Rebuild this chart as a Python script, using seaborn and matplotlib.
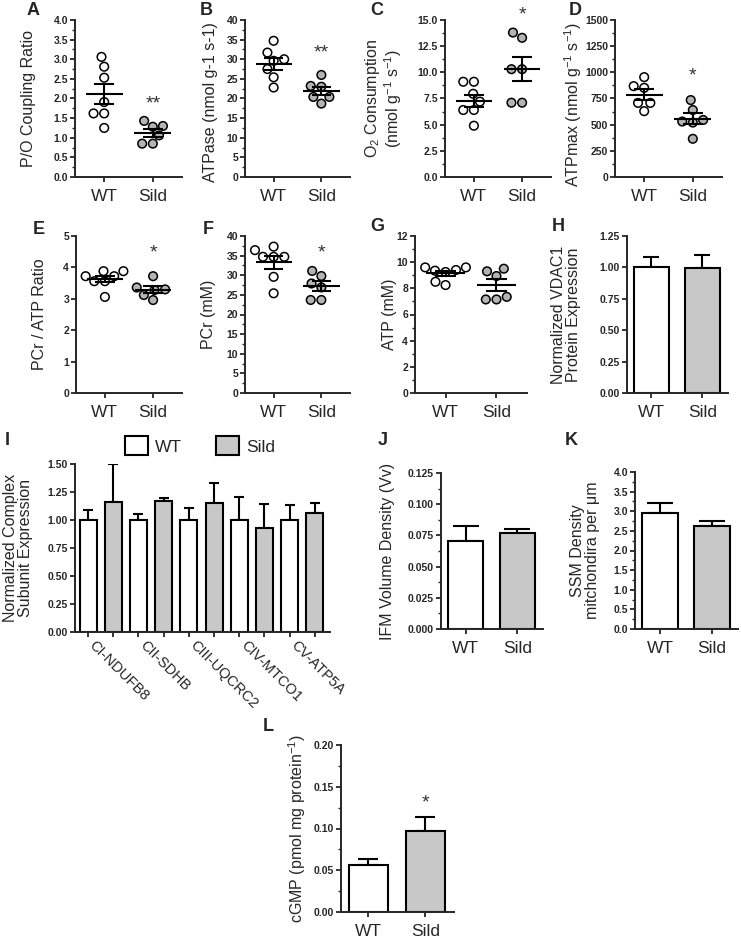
import numpy as np
import pandas as pd
import matplotlib
matplotlib.use("Agg")
import matplotlib.pyplot as plt
import matplotlib.transforms as mtransforms
import seaborn as sns
from matplotlib.ticker import MultipleLocator, AutoMinorLocator, FormatStrFormatter

sns.set_theme(style="ticks")
plt.rcParams["font.family"] = ["Liberation Sans", "DejaVu Sans"]
plt.rcParams["mathtext.default"] = "regular"
plt.rcParams["axes.linewidth"] = 1.4

W, H = 741, 940
GROUPS = ["WT", "Sild"]
PT_COLORS = {"WT": "white", "Sild": "#b4b4b4"}
BAR_COLORS = {"WT": "white", "Sild": "#c8c8c8"}
TICK_SIZE = 12.5
YLABEL_SIZE = 11.5

# ---------------------------------------------------------------
# DATA
# ---------------------------------------------------------------
po_wt = [3.06, 2.81, 2.53, 1.91, 1.62, 1.62, 1.25]
po_sild = [1.30, 1.28, 1.43, 1.06, 0.85, 0.85]
atpase_wt = [34.7, 31.7, 30.0, 29.6, 27.5, 25.4, 22.8]
atpase_sild = [26.0, 23.2, 23.0, 20.4, 20.4, 18.7]
o2_wt = [9.1, 9.1, 7.95, 7.2, 6.4, 6.4, 4.9]
o2_sild = [13.8, 13.3, 10.3, 10.3, 7.1, 7.1]
atpmax_wt = [954, 868, 852, 708, 708, 629]
atpmax_sild = [735, 640, 545, 530, 520, 365]
pcr_atp_wt = [3.88, 3.88, 3.72, 3.72, 3.56, 3.56, 3.06]
pcr_atp_sild = [3.72, 3.36, 3.30, 3.28, 3.12, 2.96]
pcr_wt = [37.3, 36.4, 34.7, 34.7, 34.7, 29.6, 25.4]
pcr_sild = [31.1, 29.8, 27.9, 26.9, 23.7, 23.7]
atp_wt = [9.6, 9.6, 9.4, 9.35, 9.25, 8.5, 8.25]
atp_sild = [9.5, 9.3, 8.94, 7.35, 7.15, 7.15]

vdac_mean = [1.00, 0.995]
vdac_sem = [0.08, 0.10]

complexes = ["CI-NDUFB8", "CII-SDHB", "CIII-UQCRC2", "CIV-MTCO1", "CV-ATP5A"]
cx_wt_mean = [1.0, 1.0, 1.0, 1.0, 1.0]
cx_wt_sem = [0.086, 0.05, 0.104, 0.202, 0.131]
cx_sild_mean = [1.164, 1.167, 1.149, 0.929, 1.063]
cx_sild_sem = [0.333, 0.026, 0.178, 0.211, 0.092]

ifm_mean = [0.0702, 0.0769]
ifm_sem = [0.0121, 0.0035]
ssm_mean = [2.96, 2.63]
ssm_sem = [0.25, 0.11]
cgmp_mean = [0.0558, 0.0972]
cgmp_sem = [0.0075, 0.0171]

fig = plt.figure(figsize=(W / 100, H / 100), dpi=100)


def px(l, t, r, b):
    return [l / W, 1 - b / H, (r - l) / W, (b - t) / H]


def style_axis(ax, ylim, step, fmt, ylabel, label_x, minor=True, label_y=0.5):
    sns.despine(ax=ax)
    ax.set_ylim(*ylim)
    ax.yaxis.set_major_locator(MultipleLocator(step))
    ax.yaxis.set_major_formatter(FormatStrFormatter(fmt))
    if minor:
        ax.yaxis.set_minor_locator(AutoMinorLocator(2))
    ax.tick_params(axis="y", which="major", length=3.5, width=1.3, labelsize=7.5, pad=1.5)
    ax.tick_params(axis="y", which="minor", length=2, width=1)
    ax.tick_params(axis="x", length=3.5, width=1.3, labelsize=TICK_SIZE, pad=5)
    for t in ax.get_yticklabels():
        t.set_fontweight("bold")
    ax.set_xlabel("")
    ax.set_ylabel(ylabel, fontsize=YLABEL_SIZE, linespacing=1.0)
    ax.yaxis.set_label_coords(label_x, label_y)


def star(ax, x, y, txt):
    ax.annotate(txt, xy=(x, y), xytext=(0, -8), textcoords="offset points",
                ha="center", va="baseline", fontsize=14, color="#333333",
                annotation_clip=False)


def scatter_panel(rect, wt, sild, ylim, step, fmt, ylabel, label_x, stars=None,
                  star_y=None, label_y=0.5):
    ax = fig.add_axes(px(*rect))
    df = pd.DataFrame({"group": ["WT"] * len(wt) + ["Sild"] * len(sild),
                       "value": wt + sild})
    sns.swarmplot(data=df, x="group", y="value", hue="group", order=GROUPS,
                  palette=PT_COLORS, size=6.2, edgecolor="black", linewidth=1.1,
                  legend=False, ax=ax, zorder=2)
    stats = df.groupby("group")["value"].agg(["mean", "sem"])
    for i, g in enumerate(GROUPS):
        m, s = stats.loc[g, "mean"], stats.loc[g, "sem"]
        ax.hlines(m, i - 0.38, i + 0.38, color="black", lw=1.5, zorder=3)
        ax.hlines([m - s, m + s], i - 0.2, i + 0.2, color="black", lw=1.5, zorder=3)
        ax.vlines(i, m - s, m + s, color="black", lw=1.5, zorder=3)
    ax.set_xlim(-0.6, 1.6)
    style_axis(ax, ylim, step, fmt, ylabel, label_x, label_y=label_y)
    if stars:
        star(ax, 1, star_y, stars)
    return ax


def bar_panel(rect, means, sems, ylim, step, fmt, ylabel, label_x, capsize, minor=True,
              stars=None, star_y=None):
    ax = fig.add_axes(px(*rect))
    sns.barplot(x=GROUPS, y=means, hue=GROUPS, palette=BAR_COLORS, width=0.68,
                edgecolor="black", linewidth=1.5, legend=False, ax=ax, zorder=2)
    ax.errorbar(range(len(GROUPS)), means, yerr=[np.zeros(len(sems)), sems],
                fmt="none", ecolor="black", elinewidth=1.5, capsize=capsize,
                capthick=1.5, zorder=1)
    ax.set_xlim(-0.48, 1.5)
    style_axis(ax, ylim, step, fmt, ylabel, label_x, minor=minor)
    if stars:
        star(ax, 1, star_y, stars)
    return ax


# row 1
scatter_panel((75, 20, 182, 177), po_wt, po_sild, (0, 4), 0.5, "%.1f",
              "P/O Coupling Ratio", -0.36, "**", 2.04)
scatter_panel((245, 20, 350, 177), atpase_wt, atpase_sild, (0, 40), 5, "%d",
              "ATPase (nmol g-1 s-1)", -0.26, "**", 33.2, label_y=0.48)
scatter_panel((445, 20, 551, 177), o2_wt, o2_sild, (0, 15), 2.5, "%.1f",
              "O$_2$ Consumption\n(nmol g$^{-1}$ s$^{-1}$)", -0.39, "*", 16.1)
scatter_panel((615, 20, 722, 177), atpmax_wt, atpmax_sild, (0, 1500), 250, "%d",
              "ATPmax (nmol g$^{-1}$ s$^{-1}$)", -0.29, "*", 1028, label_y=0.46)

# row 2
ax_e = scatter_panel((76, 236, 182, 393), pcr_atp_wt, pcr_atp_sild, (0, 5), 1, "%d",
                     "PCr / ATP Ratio", -0.27, "*", 4.66)
ax_e.yaxis.set_minor_locator(plt.NullLocator())
scatter_panel((245, 236, 350, 393), pcr_wt, pcr_sild, (0, 40), 5, "%d",
              "PCr (mM)", -0.28, "*", 37.3)
scatter_panel((415, 236, 527, 393), atp_wt, atp_sild, (0, 12), 2, "%d",
              "ATP (mM)", -0.16)
bar_panel((627, 236, 728, 393), vdac_mean, vdac_sem, (0, 1.25), 0.25, "%.2f",
          "Normalized VDAC1\nProtein Expression", -0.46, 6, minor=False)

# row 3 - panel I (grouped bars)
ax_i = fig.add_axes(px(75, 464, 330, 632))
cx_df = pd.DataFrame({
    "complex": complexes * 2,
    "group": ["WT"] * len(complexes) + ["Sild"] * len(complexes),
    "value": cx_wt_mean + cx_sild_mean,
})
sns.barplot(data=cx_df, x="complex", y="value", hue="group", hue_order=GROUPS,
            palette=BAR_COLORS, width=1.0, gap=0.32, edgecolor="black",
            linewidth=1.5, ax=ax_i, zorder=2)
bars = [p for p in ax_i.patches if p.get_height() > 0][:2 * len(complexes)]
centers = [p.get_x() + p.get_width() / 2 for p in bars]
ax_i.errorbar(centers, cx_wt_mean + cx_sild_mean,
              yerr=[np.zeros(len(centers)), cx_wt_sem + cx_sild_sem],
              fmt="none", ecolor="black", elinewidth=1.5, capsize=3.6,
              capthick=1.5, zorder=1)
ax_i.set_xlim(-0.51, 4.55)
style_axis(ax_i, (0, 1.5), 0.25, "%.2f", "Normalized Complex\nSubunit Expression",
           -0.165, minor=False)
order = np.argsort(centers)
tick_pos = [centers[k] for k in order]
tick_lab = [complexes[k] if k < len(complexes) else "" for k in order]
ax_i.set_xticks(tick_pos)
ax_i.set_xticklabels(tick_lab, rotation=-45, ha="left", va="top",
                     rotation_mode="anchor", fontsize=10.5)
ax_i.tick_params(axis="x", pad=2)
shift = mtransforms.ScaledTranslation(6 / 72, 1 / 72, fig.dpi_scale_trans)
for t in ax_i.get_xticklabels():
    t.set_transform(t.get_transform() + shift)
sns.move_legend(ax_i, "lower center", bbox_to_anchor=(0.49, 1.0), ncol=2,
                frameon=False, title=None, fontsize=TICK_SIZE, handlelength=1.3,
                handleheight=1.3, columnspacing=2.0, handletextpad=0.4,
                borderaxespad=0.1)

bar_panel((441, 473, 543, 629), ifm_mean, ifm_sem, (0, 0.125), 0.025, "%.3f",
          "IFM Volume Density (Vv)", -0.45, 9.5)
bar_panel((635, 472, 738, 629), ssm_mean, ssm_sem, (0, 4), 0.5, "%.1f",
          "SSM Density\nmitchondira per μm", -0.34, 9.5)

# row 4
bar_panel((341, 745, 454, 912), cgmp_mean, cgmp_sem, (0, 0.20), 0.05, "%.2f",
          "cGMP (pmol mg protein$^{-1}$)", -0.29, 7, stars="*", star_y=0.138)

# panel letters
letters = {"A": (27, 2), "B": (200, 2), "C": (370, 2), "D": (569, 2),
           "E": (33, 221), "F": (203, 221), "G": (370, 218), "H": (552, 218),
           "I": (5, 432), "J": (378, 432), "K": (565, 432), "L": (263, 718)}
for k, (x, y) in letters.items():
    fig.text(x / W, 1 - y / H, k, fontsize=13, fontweight="bold", ha="left", va="top")

fig.savefig("out.png", dpi=100)
